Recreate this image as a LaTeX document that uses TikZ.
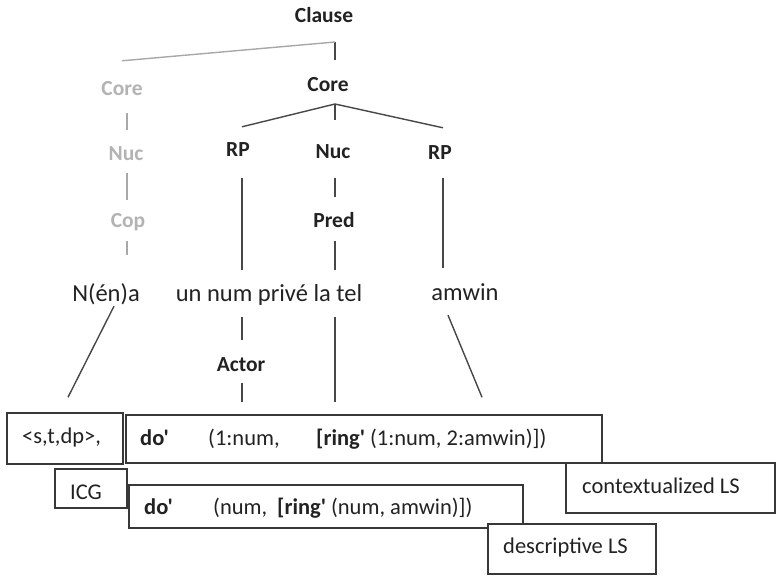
\documentclass[tikz,border=0pt]{standalone}
\usepackage{fontspec}
\setmainfont{Carlito}
\newfontfamily\calib{Carlito}
\definecolor{ink}{HTML}{222222}
\definecolor{faint}{HTML}{B3B3B3}
\definecolor{edge}{HTML}{474747}
\definecolor{faintedge}{HTML}{A8A8A8}
\definecolor{boxline}{HTML}{383838}
\begin{document}
\begin{tikzpicture}[x=1pt,y=-1pt,
  lbl/.style={font=\calib\bfseries\fontsize{21.5}{26}\selectfont, text=ink, inner sep=0pt,
              text height=15pt, text depth=4pt, anchor=base},
  glbl/.style={lbl, text=faint},
  word/.style={font=\calib\fontsize{24.5}{28}\selectfont, text=ink, inner sep=0pt,
               text height=17pt, text depth=5pt, anchor=base},
  boxtxt/.style={font=\calib\fontsize{22.5}{26}\selectfont, text=ink, inner sep=0pt,
                 anchor=base west},
  frame/.style={draw=boxline, line width=1.5pt, fill=white, inner sep=0pt},
  dk/.style={draw=edge, line width=1.4pt},
  lt/.style={draw=faintedge, line width=1.4pt}]
\fill[white] (0,0) rectangle (778,577);
\useasboundingbox (0,0) rectangle (778,577);

% tree labels
\node[lbl]  (clause) at (324,23)  {Clause};
\node[glbl] (gcore)  at (122,96)  {Core};
\node[lbl]  (core)   at (328,92)  {Core};
\node[lbl]  (rp1)    at (238,157) {RP};
\node[lbl]  (nuc)    at (333,159) {Nuc};
\node[lbl]  (rp2)    at (440,160) {RP};
\node[glbl] (gnuc)   at (126,161) {Nuc};
\node[glbl] (cop)    at (128,227) {Cop};
\node[lbl]  (pred)   at (334,227) {Pred};
\node[word] (wna)    at (106,301) {N(én)a};
\node[word] (wnum)   at (269,301) {un num privé la tel};
\node[word] (wamw)   at (465,300) {amwin};
\node[lbl]  (actor)  at (241,371) {Actor};

% logical structure boxes
\node[frame, minimum width=116pt, minimum height=51pt] (sbox)   at (65,438.5)  {};
\node[frame, minimum width=476pt, minimum height=48pt] (ctx)    at (364,439)   {};
\node[frame, minimum width=209pt, minimum height=50pt] (ctxls)  at (670.5,488) {};
\node[frame, minimum width=72pt,  minimum height=39pt] (icg)    at (91,488.5)  {};
\node[frame, minimum width=394pt, minimum height=43pt] (desc)   at (326,506.5) {};
\node[frame, minimum width=168pt, minimum height=50pt] (descls) at (572,549)   {};

\node[boxtxt] (tops)   at (22,443)  {<s,t,dp>,};
\node[boxtxt] (tdo)    at (140,445) {\bfseries do'};
\node[boxtxt] (targ)   at (208,445) {(1:num,};
\node[boxtxt] (tring)  at (316,445) {\textbf{[ring'} (1:num, 2:amwin)])};
\node[boxtxt] (ticg)   at (70,499)  {ICG};
\node[boxtxt] (tdo2)   at (144,514) {\bfseries do'};
\node[boxtxt] (targ2)  at (213,514) {(num,};
\node[boxtxt] (tring2) at (277,514) {\textbf{[ring'} (num, amwin)])};
\node[boxtxt] (tctx)   at (582,493) {contextualized LS};
\node[boxtxt] (tdesc)  at (503,553) {descriptive LS};

% branch points
\coordinate (k0) at (335,42);
\coordinate (k1) at (335,104);

% clause level
\draw[dk, shorten >=17pt] (k0) -- (k0 |- core.north);
\draw[lt] (k0) -- ([yshift=20pt]gcore.north);

% core level
\draw[dk] (k1) -- ([xshift=4pt,yshift=15pt]rp1.north);
\draw[dk, shorten >=24pt] (k1) -- (k1 |- nuc.north);
\draw[dk] (k1) -- ([xshift=3pt,yshift=17pt]rp2.north);

% grey copula column
\draw[lt, shorten <=13pt, shorten >=16pt] ([xshift=5pt]gcore.south) -- ([xshift=1pt]gnuc.north);
\draw[lt, shorten <=8pt, shorten >=12pt] ([xshift=1pt]gnuc.south) -- ([xshift=-1pt]cop.north);
\draw[lt, shorten <=10pt, shorten >=29pt] ([xshift=-1pt]cop.south) -- ([xshift=-1pt]cop.south |- wna.north);

% nucleus and arguments
\draw[dk, shorten <=15pt, shorten >=15pt] ([xshift=2pt]nuc.south) -- ([xshift=1pt]pred.north);
\draw[dk, shorten <=10pt, shorten >=14pt] ([xshift=1pt]pred.south) -- ([xshift=1pt]pred.south |- wnum.north);
\draw[dk, shorten <=17pt, shorten >=14pt] ([xshift=4pt]rp1.south) -- ([xshift=4pt]rp1.south |- wnum.north);
\draw[dk, shorten <=14pt, shorten >=15pt] ([xshift=3pt]rp2.south) -- ([xshift=3pt]rp2.south |- wamw.north);

% links down to the logical structures
\draw[dk, shorten <=11pt, shorten >=16pt] ([xshift=1pt]actor.north |- wnum.south) -- ([xshift=1pt]actor.north);
\draw[dk, shorten <=8pt, shorten >=12pt] ([xshift=1pt]actor.south) -- ([xshift=1pt]actor.south |- ctx.north);
\draw[dk, shorten <=11pt, shorten >=12pt] ([xshift=1pt]pred.south |- wnum.south) -- ([xshift=1pt]pred.south |- ctx.north);
\draw[dk] ([xshift=-17pt,yshift=-10pt]wamw.south) -- ([xshift=17pt,yshift=17pt]wamw.south |- ctx.north);
\draw[dk] ([xshift=8pt]wna.south) -- ([xshift=3pt,yshift=15pt]sbox.north);
\end{tikzpicture}
\end{document}
